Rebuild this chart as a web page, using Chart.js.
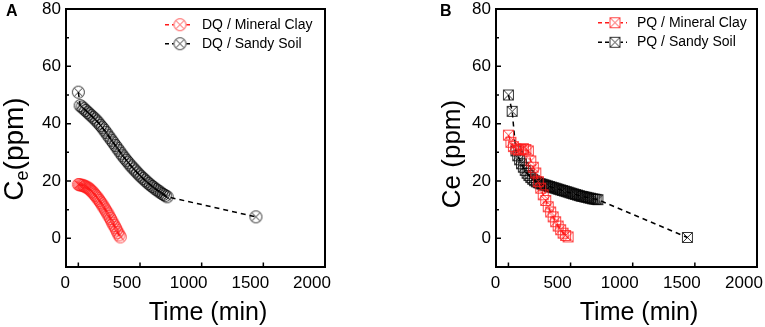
<!DOCTYPE html>
<html><head><meta charset="utf-8">
<script src="https://cdn.jsdelivr.net/npm/chart.js@4/dist/chart.umd.min.js"></script>
<style>
html,body{margin:0;padding:0;background:#fff;}
#wrap{position:relative;width:765px;height:327px;overflow:hidden;background:#fff;}
canvas{position:absolute;top:0;}
#cA{left:0;} #cB{left:380px;}
</style></head><body>
<div id="wrap"><canvas id="cA" width="380" height="327"></canvas><canvas id="cB" width="385" height="327"></canvas></div>
<script>
const FONT = '"Liberation Sans", Arial, Helvetica, sans-serif';

// ---- axis ticks ----
const xTickValues = [0, 500, 1000, 1500, 2000];
const xMarkValues = [0, 500, 1000, 1500];
const yTickValues = [0, 20, 40, 60, 80];
const yMinorValues = [10, 30, 50, 70];

// ---- Panel A : DQ ----
const dqClayTime = [0,10,20,30,40,50,60,70,80,90,100,110,120,130,140,150,160,170,180,190,200,210,220,230,240,250,260,270,280,290,300,310,320,330,340];
const dqClayCe   = [18.8,18.7,18.6,18.5,18.4,18.2,18.0,17.8,17.5,17.2,16.8,16.4,15.9,15.4,14.9,14.4,13.8,13.2,12.6,12.0,11.3,10.6,9.9,9.2,8.5,7.7,6.9,6.1,5.3,4.5,3.7,2.9,2.0,1.2,0.5];
const dqSandTime = [0,15,30,45,60,75,90,105,120,135,150,165,180,195,210,225,240,255,270,285,300,315,330,345,360,375,390,405,420,435,450,465,480,495,510,525,540,555,570,585,600,615,630,645,660,675,690,705,720,1440];
const dqSandCe   = [51.0,46.3,45.8,45.2,44.6,44.0,43.4,42.8,42.2,41.6,40.9,40.2,39.4,38.6,37.8,36.9,36.0,35.1,34.2,33.3,32.4,31.5,30.6,29.7,28.8,28.0,27.2,26.4,25.6,24.9,24.2,23.5,22.8,22.1,21.5,20.9,20.3,19.7,19.1,18.6,18.1,17.6,17.1,16.6,16.2,15.7,15.3,14.9,14.5,7.5];

// ---- Panel B : PQ ----
const pqClayTime = [0,20,40,60,80,100,120,140,160,180,200,220,240,260,280,300,320,340,360,380,400,420,440,460,480];
const pqClayCe   = [36.0,33.5,32.0,31.2,30.8,31.0,31.3,31.0,30.5,27.0,24.8,22.8,19.8,17.5,15.2,13.2,11.0,9.2,7.5,5.8,4.3,3.0,1.8,1.0,0.5];
const pqSandTime = [0,30,60,75,90,105,120,135,150,165,180,195,210,225,240,255,270,285,300,315,330,345,360,375,390,405,420,435,450,465,480,495,510,525,540,555,570,585,600,615,630,645,660,675,690,705,720,1440];
const pqSandCe   = [50.0,44.3,30.5,28.8,27.4,26.0,24.8,23.7,22.7,21.9,21.2,20.6,20.1,19.7,19.4,19.1,18.9,18.7,18.5,18.3,18.1,17.9,17.7,17.5,17.3,17.1,16.9,16.7,16.5,16.3,16.1,15.9,15.7,15.5,15.3,15.1,14.9,14.7,14.6,14.4,14.3,14.1,14.0,13.8,13.7,13.6,13.5,0.3];

const seriesLabels = {
  dqClay: 'DQ / Mineral Clay', dqSand: 'DQ / Sandy Soil',
  pqClay: 'PQ / Mineral Clay', pqSand: 'PQ / Sandy Soil'
};

function pairs(xs, ys) { return xs.map((x, i) => ({x: x, y: ys[i]})); }

function marker(shape, color, size, lw) {
  const s = size + 2;
  const c = document.createElement('canvas');
  c.width = s; c.height = s;
  const g = c.getContext('2d');
  g.strokeStyle = color; g.lineWidth = lw;
  const m = s / 2, r = size / 2 - 0.5;
  g.beginPath();
  if (shape === 'circle') {
    g.arc(m, m, r, 0, Math.PI * 2);
    g.stroke();
    const d = r * Math.SQRT1_2;
    g.beginPath();
    g.moveTo(m - d, m - d); g.lineTo(m + d, m + d);
    g.moveTo(m + d, m - d); g.lineTo(m - d, m + d);
    g.stroke();
  } else {
    g.rect(m - r, m - r, 2 * r, 2 * r);
    g.moveTo(m - r, m - r); g.lineTo(m + r, m + r);
    g.moveTo(m + r, m - r); g.lineTo(m - r, m + r);
    g.stroke();
  }
  return c;
}

const RED = '#ff1a1a', BLACK = '#000000';

const frameTicks = {
  id: 'frameTicks',
  afterDraw(chart) {
    const {ctx, chartArea: a, scales: {x, y}} = chart;
    ctx.save();
    ctx.strokeStyle = '#000';
    ctx.lineWidth = 2;
    ctx.strokeRect(a.left, a.top, a.right - a.left, a.bottom - a.top);
    ctx.lineWidth = 1.5;
    ctx.beginPath();
    yTickValues.forEach(v => { const p = y.getPixelForValue(v); ctx.moveTo(a.left, p); ctx.lineTo(a.left + 5, p); });
    yMinorValues.forEach(v => { const p = y.getPixelForValue(v); ctx.moveTo(a.left, p); ctx.lineTo(a.left + 3, p); });
    xMarkValues.forEach(v => { const p = x.getPixelForValue(v); ctx.moveTo(p, a.bottom); ctx.lineTo(p, a.bottom - 4.5); });
    ctx.stroke();
    ctx.restore();
  }
};

const sampleLegend = {
  id: 'sampleLegend',
  afterDraw(chart, args, o) {
    const ctx = chart.ctx;
    chart.data.datasets.forEach((ds, i) => {
      const y = o.rows[i];
      ctx.save();
      ctx.strokeStyle = ds.borderColor;
      ctx.lineWidth = 1.5;
      ctx.setLineDash([4, 3]);
      ctx.beginPath(); ctx.moveTo(o.x0, y); ctx.lineTo(o.x1, y); ctx.stroke();
      ctx.setLineDash([]);
      const img = ds.pointStyle;
      ctx.fillStyle = '#fff';
      ctx.fillRect(o.mx - img.width / 2 + 1, y - img.height / 2 + 1, img.width - 2, img.height - 2);
      ctx.drawImage(img, o.mx - img.width / 2, y - img.height / 2);
      ctx.fillStyle = '#000';
      ctx.font = '14px ' + FONT;
      ctx.textAlign = 'left';
      ctx.textBaseline = 'middle';
      ctx.fillText(ds.label, o.tx, y);
      ctx.restore();
    });
  }
};

const axisTitles = {
  id: 'axisTitles',
  afterDraw(chart, args, o) {
    const ctx = chart.ctx;
    ctx.save();
    ctx.fillStyle = '#000';
    ctx.textBaseline = 'alphabetic';
    ctx.font = o.xSize + 'px ' + FONT;
    ctx.textAlign = 'center';
    ctx.fillText(o.xText, o.xX, o.xY);
    ctx.font = 'bold 16px ' + FONT;
    ctx.textAlign = 'left';
    ctx.fillText(o.letter, o.lX, o.lY);
    ctx.translate(o.yX, o.yY);
    ctx.rotate(-Math.PI / 2);
    let total = 0;
    o.yParts.forEach(p => { ctx.font = p.size + 'px ' + FONT; total += ctx.measureText(p.text).width; });
    let cx = -total / 2;
    o.yParts.forEach(p => {
      ctx.font = p.size + 'px ' + FONT;
      ctx.fillText(p.text, cx, p.dy || 0);
      cx += ctx.measureText(p.text).width;
    });
    ctx.restore();
  }
};

function makeScales(yWidth) {
  return {
    x: {
      type: 'linear', min: -100, max: 2000,
      afterBuildTicks: s => { s.ticks = xTickValues.map(v => ({value: v})); },
      afterFit: s => { s.height = 60; s.paddingLeft = 0; s.paddingRight = 0; },
      grid: {display: false, drawTicks: false},
      border: {display: false},
      ticks: {font: {family: FONT, size: 17}, color: '#000', padding: 6, labelOffset: -13, maxRotation: 0, autoSkip: false,
              callback: v => String(v)}
    },
    y: {
      type: 'linear', min: -10, max: 80,
      afterBuildTicks: s => { s.ticks = yTickValues.map(v => ({value: v})); },
      afterFit: s => { s.width = yWidth; s.paddingTop = 0; s.paddingBottom = 0; },
      grid: {display: false, drawTicks: false},
      border: {display: false},
      ticks: {font: {family: FONT, size: 17}, color: '#000', padding: 5, autoSkip: false,
              callback: v => String(v)}
    }
  };
}

function dataset(label, xs, ys, color, shape, size) {
  return {
    label: label,
    data: pairs(xs, ys),
    showLine: true,
    borderColor: color,
    backgroundColor: color,
    borderWidth: 1.5,
    borderDash: [5, 4],
    pointStyle: marker(shape, color, size, 0.8),
    pointRadius: 6,
    tension: 0
  };
}

function makeChart(id, datasets, pad, yWidth, legendOpts, titleOpts) {
  return new Chart(document.getElementById(id), {
    type: 'scatter',
    data: {datasets: datasets},
    options: {
      responsive: false, animation: false, devicePixelRatio: 1,
      layout: {padding: pad},
      scales: makeScales(yWidth),
      plugins: {
        legend: {display: false}, tooltip: {enabled: false},
        sampleLegend: legendOpts, axisTitles: titleOpts
      }
    },
    plugins: [frameTicks, sampleLegend, axisTitles]
  });
}

makeChart('cA', [
  dataset(seriesLabels.dqClay, dqClayTime, dqClayCe, RED, 'circle', 13),
  dataset(seriesLabels.dqSand, dqSandTime, dqSandCe, BLACK, 'circle', 13)
], {left: 0, top: 9, right: 55, bottom: 0}, 66,
  {x0: 165, x1: 193, mx: 180, tx: 202, rows: [24.7, 43.7]},
  {xText: 'Time (min)', xSize: 25, xX: 208, xY: 319.5, letter: 'A', lX: 6, lY: 16,
   yX: 23, yY: 149, yParts: [{text: 'C', size: 28}, {text: 'e', size: 18, dy: 5}, {text: '(ppm)', size: 28}]});

makeChart('cB', [
  dataset(seriesLabels.pqClay, pqClayTime, pqClayCe, RED, 'square', 11),
  dataset(seriesLabels.pqSand, pqSandTime, pqSandCe, BLACK, 'square', 11)
], {left: 0, top: 9, right: 8, bottom: 0}, 116,
  {x0: 218, x1: 247, mx: 235, tx: 257, rows: [22.7, 42.3]},
  {xText: 'Time (min)', xSize: 25, xX: 259, xY: 319.5, letter: 'B', lX: 60, lY: 16,
   yX: 80, yY: 154, yParts: [{text: 'Ce (ppm)', size: 26}]});
</script>
</body></html>
